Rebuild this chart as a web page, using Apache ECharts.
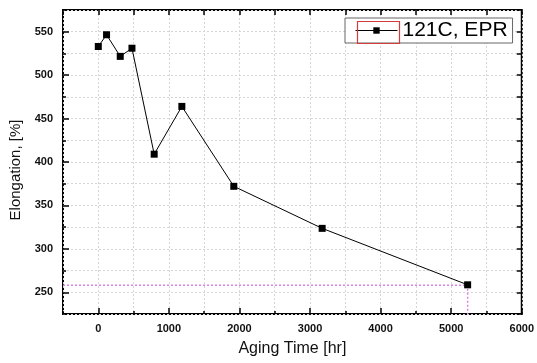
<!DOCTYPE html>
<html>
<head>
<meta charset="utf-8">
<script src="https://cdn.jsdelivr.net/npm/echarts@6/dist/echarts.min.js"></script>
<style>
html,body{margin:0;padding:0;background:#fff;}
#chart{width:537px;height:363px;}
</style>
</head>
<body>
<div id="chart"></div>
<script>
// Data
const seriesName = '121C, EPR';
const agingTime = [0, 117, 311, 477, 792, 1184, 1920, 3172, 5233];
const elongation = [533, 546.5, 521.6, 531, 409, 464, 372, 323.6, 258.6];
const xMajorTicks = [0, 1000, 2000, 3000, 4000, 5000, 6000];
const yMajorTicks = [250, 300, 350, 400, 450, 500, 550];
const refX = 5233;
const refY = 258;

const font = 'Liberation Sans, Arial, sans-serif';
const xMin = -500, xMax = 6000, xStep = 500;
const yMin = 225, yMax = 575, yStep = 25;

const chart = echarts.init(document.getElementById('chart'), null, {renderer: 'canvas'});

function baseX(extra) {
  return Object.assign({
    type: 'value', min: xMin, max: xMax, interval: xStep,
    axisLine: {show: false, onZero: false}, axisLabel: {show: false}, splitLine: {show: false},
    axisTick: {show: false}
  }, extra);
}
function baseY(extra) {
  return Object.assign({
    type: 'value', min: yMin, max: yMax, interval: yStep,
    axisLine: {show: false, onZero: false}, axisLabel: {show: false}, splitLine: {show: false},
    axisTick: {show: false}
  }, extra);
}

const option = {
  backgroundColor: '#fff',
  animation: false,
  grid: {left: 63, top: 10, width: 461, height: 304, show: true,
         borderColor: '#000', borderWidth: 2, backgroundColor: 'transparent'},
  legend: {
    left: 345, top: 18, z: 4,
    padding: [2, 5, 2, 10],
    itemWidth: 42, itemHeight: 8,
    backgroundColor: '#fff', borderColor: '#666', borderWidth: 1,
    textStyle: {fontFamily: font, fontSize: 21, color: '#000'},
    itemStyle: {color: '#000'},
    lineStyle: {color: '#000', width: 1},
    data: [seriesName]
  },
  graphic: {
    elements: [{
      type: 'rect', left: 355, top: 19, z: 200,
      shape: {width: 42, height: 22},
      style: {fill: 'none', stroke: '#d43c3c', lineWidth: 1.2}
    }]
  },
  xAxis: [
    baseX({
      position: 'bottom',
      name: 'Aging Time [hr]', nameLocation: 'middle', nameGap: 27,
      nameTextStyle: {fontFamily: font, fontSize: 16, color: '#111'},
      axisLabel: {show: true, margin: 9, fontFamily: font, fontSize: 11, fontWeight: 'bold', color: '#111',
        formatter: v => (v % 1000 === 0 ? String(v) : '')},
      splitLine: {show: true, lineStyle: {color: '#d6d6d6', type: [2, 2], width: 1}}
    }),
    baseX({position: 'bottom', axisTick: {show: true, inside: true, length: 6, customValues: xMajorTicks, lineStyle: {color: '#000', width: 1.5}}}),
    baseX({position: 'bottom', axisTick: {show: true, inside: true, length: 3, lineStyle: {color: '#000', width: 1.5}}}),
    baseX({position: 'top', axisTick: {show: true, inside: true, length: 5, lineStyle: {color: '#000', width: 1.5}}})
  ],
  yAxis: [
    baseY({
      position: 'left',
      name: 'Elongation, [%]', nameLocation: 'middle', nameGap: 37,
      nameTextStyle: {fontFamily: font, fontSize: 15, color: '#111', padding: [0, 16, 0, 0]},
      axisLabel: {show: true, margin: 10, fontFamily: font, fontSize: 11, fontWeight: 'bold', color: '#111',
        formatter: v => (v % 50 === 0 ? String(v) : '')},
      splitLine: {show: true, lineStyle: {color: '#d6d6d6', type: [2, 2], width: 1}}
    }),
    baseY({position: 'left', axisTick: {show: true, inside: true, length: 6, customValues: yMajorTicks, lineStyle: {color: '#000', width: 1.5}}}),
    baseY({position: 'left', axisTick: {show: true, inside: true, length: 3, lineStyle: {color: '#000', width: 1.5}}}),
    baseY({position: 'right', axisTick: {show: true, inside: true, length: 5, lineStyle: {color: '#000', width: 1.5}}})
  ],
  series: [{
    name: 'guide',
    type: 'line',
    xAxisIndex: 0, yAxisIndex: 0,
    data: [[xMin, refY], [refX, refY], [refX, yMin]],
    symbol: 'none', silent: true, z: 1,
    lineStyle: {color: '#dc80e4', type: [2, 2], width: 1.5}
  }, {
    name: seriesName,
    type: 'line',
    xAxisIndex: 0, yAxisIndex: 0,
    data: agingTime.map((t, i) => [t, elongation[i]]),
    symbol: 'rect', symbolSize: 7, z: 3,
    itemStyle: {color: '#000'},
    lineStyle: {color: '#000', width: 1}
  }]
};
chart.setOption(option);
</script>
</body>
</html>
